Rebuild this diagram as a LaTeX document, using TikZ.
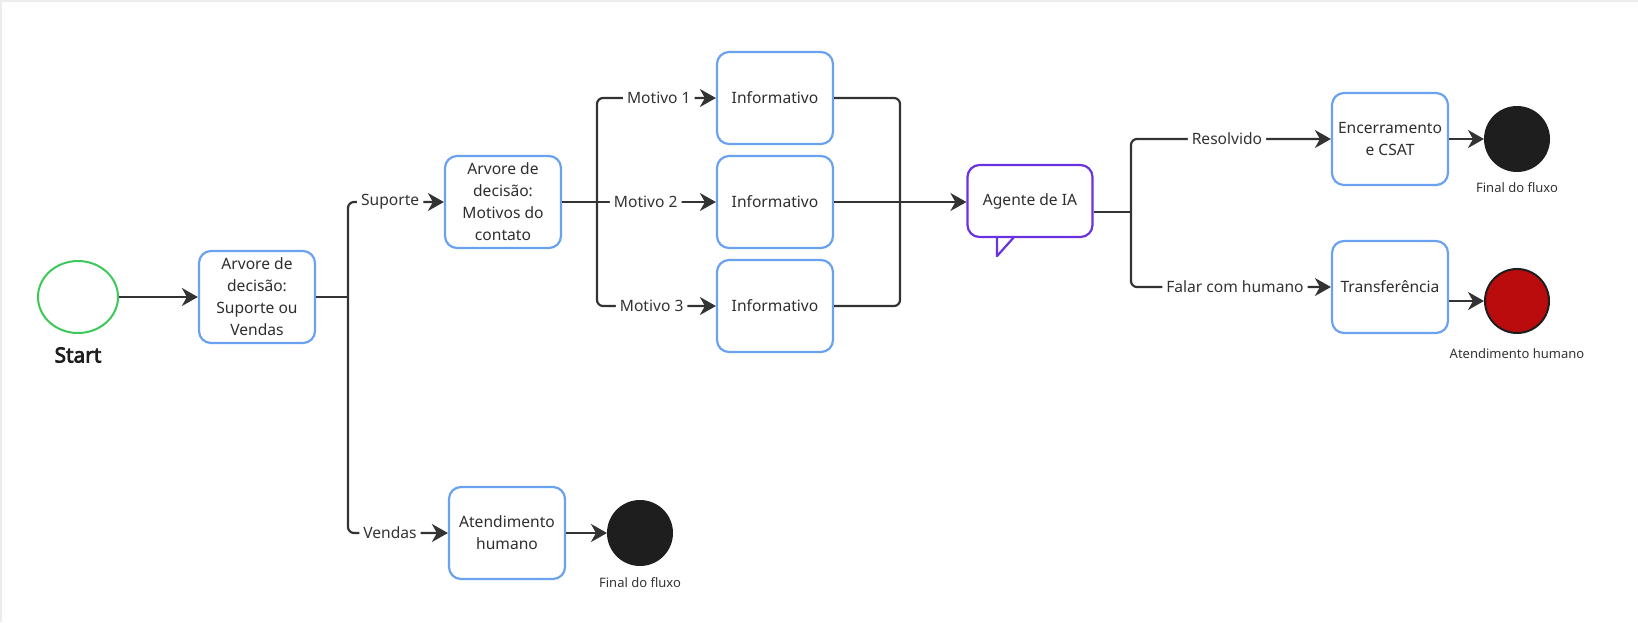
\documentclass[tikz,border=0pt]{standalone}
\usepackage{fontspec}
\setmainfont{Noto Sans}
\newfontfamily\startfont{Noto Sans}[FakeBold=3.6]
\usetikzlibrary{arrows.meta,shapes.geometric}

\definecolor{boxblue}{HTML}{6AA1F0}
\definecolor{startgreen}{HTML}{3CC95A}
\definecolor{agentpurple}{HTML}{6A32E0}
\definecolor{linedark}{HTML}{333333}
\definecolor{endblack}{HTML}{1E1E1E}
\definecolor{endred}{HTML}{BA0C0C}

\tikzset{
  etapa/.style={draw=boxblue, line width=1.1pt, rounded corners=6pt, fill=white,
    minimum width=58pt, minimum height=46pt, align=center, inner sep=1pt,
    font=\fontsize{7.8}{11}\selectfont, text=linedark!90!black},
  fimfluxo/.style={circle, draw=endblack, line width=1pt, fill=endblack, minimum size=32pt, inner sep=0pt},
  rotulo/.style={font=\fontsize{6.5}{8}\selectfont, text=linedark},
  ramo/.style={draw=linedark, line width=1.1pt, rounded corners=3pt},
  seta/.style={ramo, -{Stealth[length=8pt,width=9pt,inset=2.5pt]}},
  cond/.style={fill=white, inner sep=2pt, font=\fontsize{7.8}{9}\selectfont, text=linedark}
}

\begin{document}
\begin{tikzpicture}[x=0.5pt,y=-0.5pt]
% moldura
\useasboundingbox (0,0) rectangle (1638,622);
\draw[gray!15, line width=1pt] (0.5,622) -- (0.5,0.5) -- (1638,0.5);

% inicio
\node[ellipse, draw=startgreen, line width=1pt, minimum width=40pt, minimum height=36pt] (start) at (78,297) {};
\node[font=\startfont\fontsize{10.4}{12}\selectfont, text=endblack] (startlbl) at (78,355) {Start};

% arvores de decisao
\node[etapa] (arv1) at (257,297) {Arvore de\\decisão:\\Suporte ou\\Vendas};
\node[etapa] (arv2) at (503,202) {Arvore de\\decisão:\\Motivos do\\contato};

% motivos
\node[etapa] (inf1) at (775,98) {Informativo};
\node[etapa] (inf2) at (775,202) {Informativo};
\node[etapa] (inf3) at (775,306) {Informativo};

% agente
\node[etapa, draw=agentpurple, minimum width=62.5pt, minimum height=36pt] (agente) at (1030,201) {Agente de IA};
\fill[white] ([xshift=-16pt,yshift=-1pt]agente.south) -- ++(0,-9.5pt) -- ([xshift=-8pt,yshift=-1pt]agente.south) -- cycle;
\draw[agentpurple, line width=1.1pt, line join=round] ([xshift=-16.5pt,yshift=0.5pt]agente.south) -- ++(0,-9.5pt) -- ([xshift=-8pt,yshift=0.5pt]agente.south);

% saidas
\node[etapa] (enc) at (1390,139) {Encerramento\\e CSAT};
\node[etapa] (transf) at (1390,287) {Transferência};
\node[etapa] (atend) at (507,533) {Atendimento\\humano};

% finais
\node[fimfluxo] (fim1) at (1517,139) {};
\node[rotulo] (fim1lbl) at (1517,188) {Final do fluxo};
\node[fimfluxo, fill=endred] (fim2) at (1517,301) {};
\node[rotulo] (fim2lbl) at (1517,354) {Atendimento humano};
\node[fimfluxo] (fim3) at (640,533) {};
\node[rotulo] (fim3lbl) at (640,583) {Final do fluxo};

% junções
\coordinate (j1) at (348,297);
\coordinate (j2) at (597,202);
\coordinate (j3) at (900,202);
\coordinate (j4) at (1131,212);

% conectores
\draw[seta] (start) -- (arv1);
\draw[ramo] (arv1.east) -- (j1);
\draw[seta] (j1) |- node[cond, pos=0.72] {Suporte} (arv2.west);
\draw[seta] (j1) |- node[cond, pos=0.71] {Vendas} (atend.west);

\draw[ramo] (arv2.east) -- (j2);
\draw[seta] (j2) |- node[cond, pos=0.76] {Motivo 1} (inf1.west);
\draw[seta] (j2) -- node[cond, pos=0.41] {Motivo 2} (inf2.west);
\draw[seta] (j2) |- node[cond, pos=0.73] {Motivo 3} (inf3.west);

\draw[ramo] (inf1.east) -| (j3);
\draw[ramo] (inf3.east) -| (j3);
\draw[ramo] (inf2.east) -- (j3);
\draw[seta] (j3) -- (agente.west |- j3);

\draw[ramo] (agente.east |- j4) -- (j4);
\draw[seta] (j4) |- node[cond, pos=0.74] {Resolvido} (enc.west);
\draw[seta] (j4) |- node[cond, pos=0.76] {Falar com humano} (transf.west);

\draw[seta] (enc.east) -- (fim1.west);
\draw[seta] (transf.east |- fim2) -- (fim2.west);
\draw[seta] (atend.east) -- (fim3.west);
\end{tikzpicture}
\end{document}
